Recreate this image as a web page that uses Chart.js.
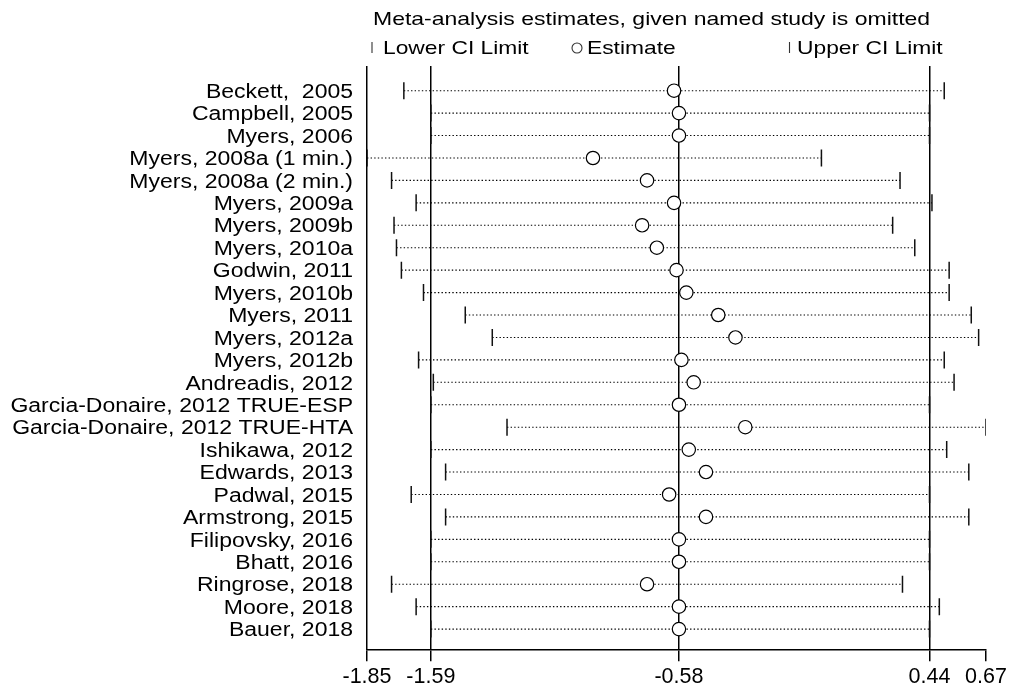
<!DOCTYPE html>
<html>
<head>
<meta charset="utf-8">
<script src="https://cdn.jsdelivr.net/npm/chart.js@4"></script>
<style>
  html, body { margin: 0; padding: 0; background: #fff; }
  #wrap { width: 1016px; height: 692px; position: relative; }
</style>
</head>
<body>
<div id="wrap"><canvas id="influenceChart"></canvas></div>
<script>
const studies = [
  'Beckett,  2005', 'Campbell, 2005', 'Myers, 2006', 'Myers, 2008a (1 min.)',
  'Myers, 2008a (2 min.)', 'Myers, 2009a', 'Myers, 2009b', 'Myers, 2010a',
  'Godwin, 2011', 'Myers, 2010b', 'Myers, 2011', 'Myers, 2012a', 'Myers, 2012b',
  'Andreadis, 2012', 'Garcia-Donaire, 2012 TRUE-ESP', 'Garcia-Donaire, 2012 TRUE-HTA',
  'Ishikawa, 2012', 'Edwards, 2013', 'Padwal, 2015', 'Armstrong, 2015',
  'Filipovsky, 2016', 'Bhatt, 2016', 'Ringrose, 2018', 'Moore, 2018', 'Bauer, 2018'
];
const lowerCI = [-1.70, -1.59, -1.59, -1.85, -1.75, -1.65, -1.74, -1.73, -1.71, -1.62, -1.45, -1.34, -1.64,
  -1.58, -1.59, -1.28, -1.59, -1.53, -1.67, -1.53, -1.59, -1.59, -1.75, -1.65, -1.59];
const estimate = [-0.60, -0.58, -0.58, -0.93, -0.71, -0.60, -0.73, -0.67, -0.59, -0.55, -0.42, -0.35, -0.57,
  -0.52, -0.58, -0.31, -0.54, -0.47, -0.62, -0.47, -0.58, -0.58, -0.71, -0.58, -0.58];
const upperCI = [0.50, 0.44, 0.44, 0.00, 0.32, 0.45, 0.29, 0.38, 0.52, 0.52, 0.61, 0.64, 0.50,
  0.54, 0.44, 0.67, 0.51, 0.60, 0.44, 0.60, 0.44, 0.44, 0.33, 0.48, 0.44];
// axis range plus the pooled lower limit, estimate and upper limit
const xTicks = [-1.85, -1.59, -0.58, 0.44, 0.67];

const FONT = '"Liberation Sans", Arial, Helvetica, sans-serif';

// Stata-style text is wider than Arial, so stretch it out horizontally
function wideText(ctx, text, x, y, align, sx) {
  ctx.save();
  ctx.translate(x, y);
  ctx.scale(sx, 1);
  ctx.textAlign = align;
  ctx.fillText(text, 0, 0);
  ctx.restore();
}

const labelsPlugin = {
  id: 'studyLabels',
  afterDraw(chart) {
    const ctx = chart.ctx;
    const yScale = chart.scales.y;
    ctx.save();
    ctx.fillStyle = '#000';
    ctx.textBaseline = 'alphabetic';

    ctx.font = '20px ' + FONT;
    studies.forEach((name, i) => {
      wideText(ctx, name, 353, yScale.getPixelForValue(i) + 7.2, 'right', 1.15);
    });

    ctx.font = '19px ' + FONT;
    wideText(ctx, 'Meta-analysis estimates, given named study is omitted', 373, 25, 'left', 1.21);
    wideText(ctx, 'Lower CI Limit', 383, 54, 'left', 1.2);
    wideText(ctx, 'Estimate', 587, 54, 'left', 1.2);
    wideText(ctx, 'Upper CI Limit', 797, 54, 'left', 1.2);

    // legend keys
    ctx.strokeStyle = '#333';
    ctx.lineWidth = 1.1;
    ctx.beginPath();
    ctx.moveTo(372, 42); ctx.lineTo(372, 53);
    ctx.moveTo(789.5, 42); ctx.lineTo(789.5, 53);
    ctx.stroke();
    ctx.beginPath();
    ctx.arc(577, 48, 5, 0, Math.PI * 2);
    ctx.stroke();
    ctx.restore();
  }
};

const ciLines = studies.map((s, i) => ({
  type: 'line',
  data: [{ x: lowerCI[i], y: i }, { x: upperCI[i], y: i }],
  borderColor: '#000',
  borderWidth: 1.1,
  borderDash: [1.4, 2.2],
  pointRadius: 0,
  order: 3
}));

const ctx = document.getElementById('influenceChart').getContext('2d');
new Chart(ctx, {
  type: 'scatter',
  data: {
    datasets: [
      {
        label: 'Estimate',
        data: estimate.map((v, i) => ({ x: v, y: i })),
        pointStyle: 'circle',
        pointRadius: 6.7,
        pointBorderWidth: 1.2,
        pointBorderColor: '#000',
        pointBackgroundColor: '#fff',
        order: 0
      },
      {
        label: 'Lower CI Limit',
        data: lowerCI.map((v, i) => ({ x: v, y: i })),
        pointStyle: 'line',
        rotation: 90,
        pointRadius: 8.5,
        pointBorderWidth: 1.5,
        pointBorderColor: '#111',
        order: 1
      },
      {
        label: 'Upper CI Limit',
        data: upperCI.map((v, i) => ({ x: v, y: i })),
        pointStyle: 'line',
        rotation: 90,
        pointRadius: 8.5,
        pointBorderWidth: 1.5,
        pointBorderColor: '#111',
        order: 1
      },
      ...ciLines
    ]
  },
  options: {
    responsive: true,
    maintainAspectRatio: false,
    devicePixelRatio: 1,
    animation: false,
    events: [],
    layout: { padding: { left: 367, right: 30, top: 66, bottom: 0 } },
    scales: {
      x: {
        type: 'linear',
        min: -1.85,
        max: 0.67,
        z: 1,
        afterBuildTicks: (scale) => { scale.ticks = xTicks.map(v => ({ value: v })); },
        grid: {
          drawOnChartArea: true,
          color: (c) => (c.tick && c.tick.value === 0.67) ? 'rgba(0,0,0,0)' : '#000',
          tickColor: '#000',
          lineWidth: 1.5,
          tickLength: 12
        },
        border: { display: true, color: '#000', width: 1.5 },
        ticks: {
          autoSkip: false,
          maxRotation: 0,
          padding: 3,
          color: '#000',
          font: { family: FONT, size: 21.5, lineHeight: 1.15 },
          callback: (v) => Number(v).toFixed(2)
        }
      },
      y: {
        type: 'linear',
        reverse: true,
        min: -1.1,
        max: 24.9,
        display: false
      }
    },
    plugins: {
      legend: { display: false },
      tooltip: { enabled: false }
    }
  },
  plugins: [labelsPlugin]
});
</script>
</body>
</html>
